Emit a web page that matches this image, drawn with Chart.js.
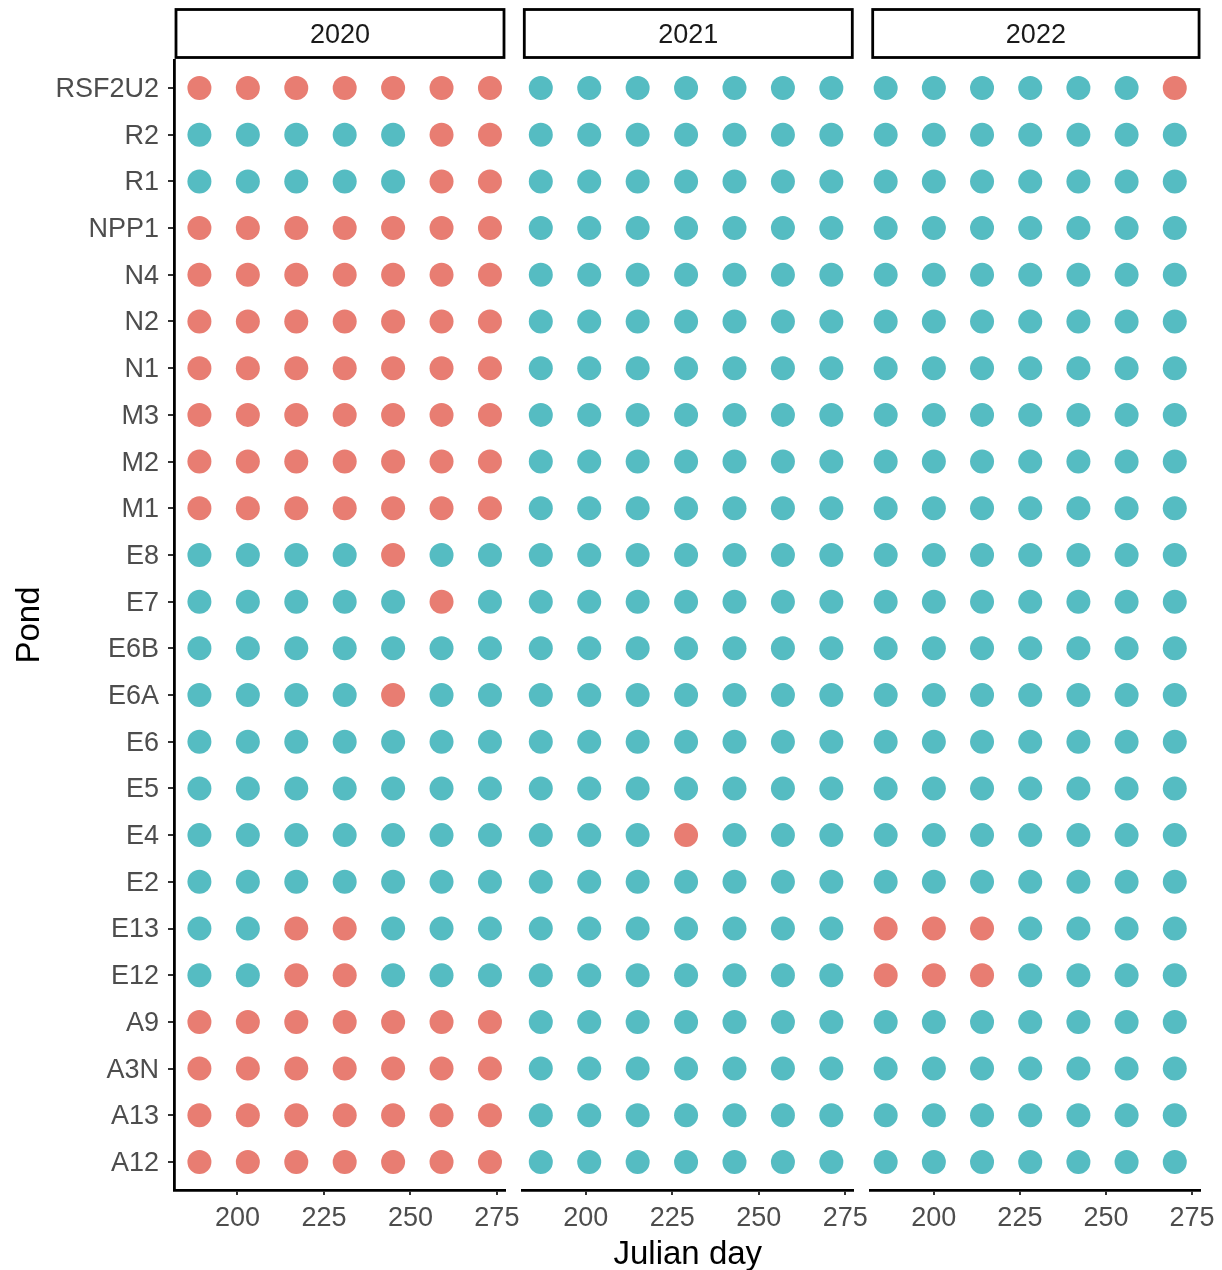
<!DOCTYPE html>
<html>
<head>
<meta charset="utf-8">
<script src="https://cdn.jsdelivr.net/npm/chart.js@4.4.1/dist/chart.umd.min.js"></script>
<style>
  html, body { margin: 0; padding: 0; background: #ffffff; }
  #wrap { position: relative; width: 1222px; height: 1270px; }
  #wrap canvas { position: absolute; left: 0; top: 0; }
</style>
</head>
<body>
<div id="wrap">
  <canvas id="c2020" width="1222" height="1270"></canvas>
  <canvas id="c2021" width="1222" height="1270"></canvas>
  <canvas id="c2022" width="1222" height="1270"></canvas>
</div>
<script>
// ---- data ----
const years = ['2020', '2021', '2022'];
const ponds = ['RSF2U2','R2','R1','NPP1','N4','N2','N1','M3','M2','M1','E8','E7','E6B','E6A','E6','E5','E4','E2','E13','E12','A9','A3N','A13','A12'];
const days2020 = [189, 203, 217, 231, 245, 259, 273];
const days2021 = [187, 201, 215, 229, 243, 257, 271];
const days2022 = [186, 200, 214, 228, 242, 256, 270];
const xTicks = [200, 225, 250, 275];
// 1 = red group, 0 = teal group; one string per pond (same order as ponds), one char per sampling day
const status2020 = ['1111111','0000011','0000011','1111111','1111111','1111111','1111111','1111111','1111111','1111111',
                    '0000100','0000010','0000000','0000100','0000000','0000000','0000000','0000000','0011000','0011000',
                    '1111111','1111111','1111111','1111111'];
const status2021 = ['0000000','0000000','0000000','0000000','0000000','0000000','0000000','0000000','0000000','0000000',
                    '0000000','0000000','0000000','0000000','0000000','0000000','0001000','0000000','0000000','0000000',
                    '0000000','0000000','0000000','0000000'];
const status2022 = ['0000001','0000000','0000000','0000000','0000000','0000000','0000000','0000000','0000000','0000000',
                    '0000000','0000000','0000000','0000000','0000000','0000000','0000000','0000000','1110000','1110000',
                    '0000000','0000000','0000000','0000000'];
const groupColors = ['#55BCC2', '#E87D72'];

// ---- layout ----
const W = 1222, H = 1270;
const panelLeft = [174, 522.3, 870.7];
const panelWidth = 331;
const plotTop = 60, plotBottom = 1190;
const xMin = 181.65, xMax = 277.35;
const FONT = '"Liberation Sans", Arial, sans-serif';

const stripPlugin = {
  id: 'strip',
  afterDraw(chart, args, opts) {
    const ca = chart.chartArea;
    const ctx = chart.ctx;
    ctx.save();
    ctx.lineWidth = 2.8;
    ctx.strokeStyle = '#000000';
    ctx.fillStyle = '#ffffff';
    const x0 = ca.left + 2, x1 = ca.right - 1, y0 = 9.5, y1 = 57.5;
    ctx.fillRect(x0, y0, x1 - x0, y1 - y0);
    ctx.strokeRect(x0, y0, x1 - x0, y1 - y0);
    ctx.fillStyle = '#1A1A1A';
    ctx.font = '27px ' + FONT;
    ctx.textAlign = 'center';
    ctx.textBaseline = 'middle';
    ctx.fillText(opts.label, (x0 + x1) / 2, (y0 + y1) / 2 + 2);
    ctx.restore();
  }
};

function makeChart(idx, days, status) {
  const pts = [], cols = [];
  ponds.forEach((p, i) => {
    days.forEach((d, j) => {
      pts.push({ x: d, y: i });
      cols.push(groupColors[+status[i][j]]);
    });
  });
  const first = idx === 0;
  const left = panelLeft[idx];
  const right = W - (left + panelWidth);
  new Chart(document.getElementById('c' + years[idx]), {
    type: 'scatter',
    data: {
      datasets: [{
        data: pts,
        pointBackgroundColor: cols,
        pointBorderWidth: 0,
        pointRadius: 12,
        pointHoverRadius: 12
      }]
    },
    options: {
      responsive: false,
      animation: false,
      events: [],
      layout: { padding: { left: first ? 0 : left, right: right, top: plotTop, bottom: 0 } },
      plugins: {
        legend: { display: false },
        tooltip: { enabled: false },
        strip: { label: years[idx] }
      },
      scales: {
        x: {
          type: 'linear',
          min: xMin, max: xMax,
          afterBuildTicks: s => { s.ticks = xTicks.map(v => ({ value: v })); },
          afterFit: s => { s.height = H - plotBottom; },
          border: { display: true, color: '#000000', width: 2.8 },
          grid: { display: true, drawOnChartArea: false, drawTicks: true, tickLength: 5, color: '#333333', lineWidth: 2 },
          ticks: {
            color: '#4D4D4D', padding: 7, maxRotation: 0, autoSkip: false,
            font: { family: FONT, size: 27 },
            callback: v => String(v)
          },
          title: {
            display: idx === 1,
            text: 'Julian day',
            color: '#000000',
            font: { family: FONT, size: 33, lineHeight: 1 },
            padding: { top: 0, bottom: -1 }
          }
        },
        y: {
          type: 'linear',
          display: first,
          reverse: true,
          min: -0.6, max: ponds.length - 0.4,
          afterBuildTicks: s => { s.ticks = ponds.map((_, i) => ({ value: i })); },
          afterFit: s => { if (first) s.width = panelLeft[0]; else s.width = 0; },
          border: { display: true, color: '#000000', width: 2.8 },
          grid: { display: true, drawOnChartArea: false, drawTicks: true, tickLength: 6, color: '#333333', lineWidth: 2 },
          ticks: {
            color: '#4D4D4D', padding: 9, autoSkip: false, labelOffset: 1.5,
            font: { family: FONT, size: 27 },
            callback: v => ponds[v]
          },
          title: {
            display: true,
            text: 'Pond',
            color: '#000000',
            font: { family: FONT, size: 33, lineHeight: 1 },
            padding: { top: 13, bottom: 0 }
          }
        }
      }
    },
    plugins: [stripPlugin]
  });
}

makeChart(0, days2020, status2020);
makeChart(1, days2021, status2021);
makeChart(2, days2022, status2022);
</script>
</body>
</html>
